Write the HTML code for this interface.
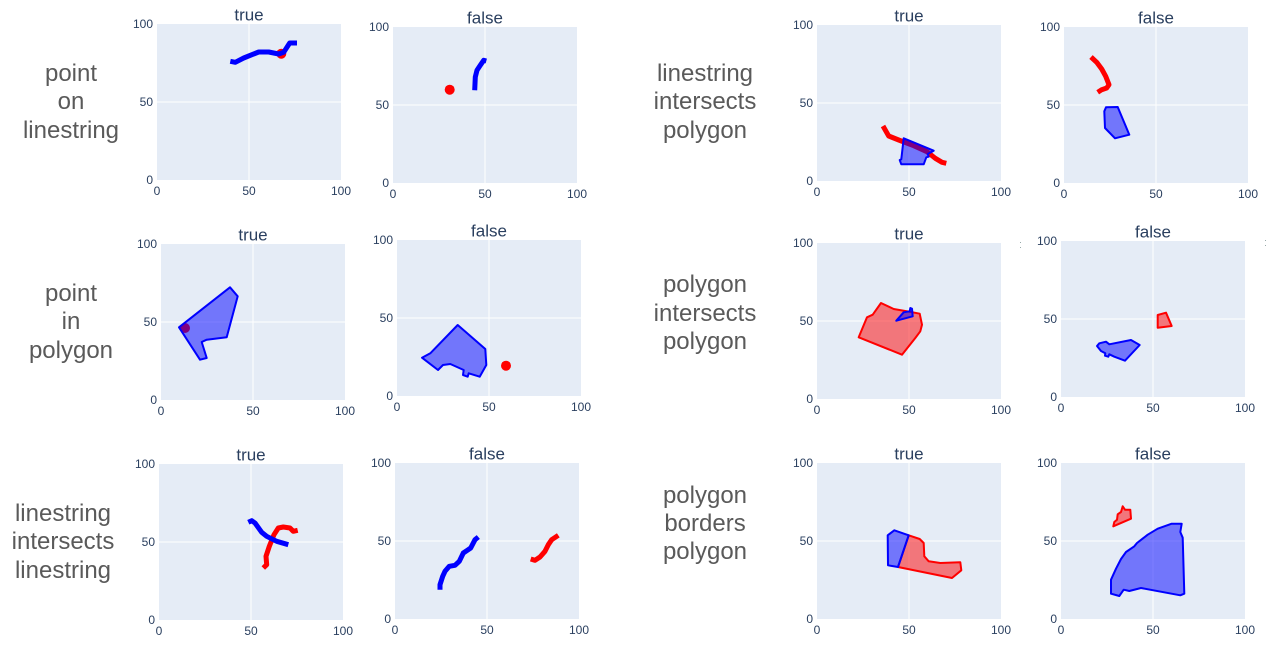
<!DOCTYPE html>
<html>
<head>
<meta charset="utf-8">
<style>
  html,body{margin:0;padding:0;background:#fff;}
  svg{display:block;}
  .tk{font-family:"Liberation Sans",Arial,sans-serif;font-size:12px;fill:#2a3f5f;}
  .ya{text-anchor:end;}
  .xa{text-anchor:middle;}
  .tt{font-family:"Liberation Sans",Arial,sans-serif;font-size:17px;fill:#2a3f5f;text-anchor:middle;}
  .rl{font-family:"Liberation Sans",Arial,sans-serif;font-size:24px;fill:#5a5a5a;text-anchor:middle;}
  .bg{fill:#E5ECF6;}
  .gr{stroke:#fff;stroke-width:1;}
  .ln{fill:none;stroke-width:5;stroke-linejoin:round;stroke-linecap:butt;}
  .pb{fill:rgba(0,0,255,0.5);stroke:#0000ff;stroke-width:2;stroke-linejoin:round;}
  .pr{fill:rgba(255,0,0,0.5);stroke:#ff0000;stroke-width:2;stroke-linejoin:round;}
</style>
</head>
<body>
<svg width="1278" height="656" viewBox="0 0 1278 656" xmlns="http://www.w3.org/2000/svg">
  <rect width="1278" height="656" fill="#fff"/>

  <!-- Row labels -->
  <text class="rl" x="71" y="81">point</text>
  <text class="rl" x="71" y="109">on</text>
  <text class="rl" x="71" y="138">linestring</text>

  <text class="rl" x="705" y="81">linestring</text>
  <text class="rl" x="705" y="109">intersects</text>
  <text class="rl" x="705" y="138">polygon</text>

  <text class="rl" x="71" y="301">point</text>
  <text class="rl" x="71" y="329">in</text>
  <text class="rl" x="71" y="358">polygon</text>

  <text class="rl" x="705" y="292">polygon</text>
  <text class="rl" x="705" y="321">intersects</text>
  <text class="rl" x="705" y="349">polygon</text>

  <text class="rl" x="63" y="521">linestring</text>
  <text class="rl" x="63" y="549">intersects</text>
  <text class="rl" x="63" y="578">linestring</text>

  <text class="rl" x="705" y="503">polygon</text>
  <text class="rl" x="705" y="531">borders</text>
  <text class="rl" x="705" y="559">polygon</text>

  <!-- P1 -->
  <g transform="translate(157,24)">
    <rect class="bg" width="184" height="156"/>
    <line class="gr" x1="92" y1="0" x2="92" y2="156"/>
    <line class="gr" x1="0" y1="78" x2="184" y2="78"/>
    <text class="tt" x="92" y="-3.5">true</text>
    <text class="tk ya" x="-4" y="4">100</text>
    <text class="tk ya" x="-4" y="82">50</text>
    <text class="tk ya" x="-4" y="160">0</text>
    <text class="tk xa" x="0" y="171">0</text>
    <text class="tk xa" x="92" y="171">50</text>
    <text class="tk xa" x="184" y="171">100</text>
    <circle cx="124.3" cy="29.7" r="5" fill="#ff0000"/>
    <polyline class="ln" stroke="#0000ff" points="73.3,37.3 78.3,38.3 86.7,34 101.7,28 111.7,28 121.7,30 126.7,28.3 132.7,19 140,19"/>
  </g>

  <!-- P2 -->
  <g transform="translate(393,27)">
    <rect class="bg" width="184" height="156"/>
    <line class="gr" x1="92" y1="0" x2="92" y2="156"/>
    <line class="gr" x1="0" y1="78" x2="184" y2="78"/>
    <text class="tt" x="92" y="-3.5">false</text>
    <text class="tk ya" x="-4" y="4">100</text>
    <text class="tk ya" x="-4" y="82">50</text>
    <text class="tk ya" x="-4" y="160">0</text>
    <text class="tk xa" x="0" y="171">0</text>
    <text class="tk xa" x="92" y="171">50</text>
    <text class="tk xa" x="184" y="171">100</text>
    <circle cx="56.7" cy="62.7" r="5" fill="#ff0000"/>
    <polyline class="ln" stroke="#0000ff" points="81.7,63.3 82.3,50 84,43.3 87.3,38.3 90.7,33.3 93.3,34"/>
  </g>

  <!-- P3 -->
  <g transform="translate(817,25)">
    <rect class="bg" width="184" height="156"/>
    <line class="gr" x1="92" y1="0" x2="92" y2="156"/>
    <line class="gr" x1="0" y1="78" x2="184" y2="78"/>
    <text class="tt" x="92" y="-3.5">true</text>
    <text class="tk ya" x="-4" y="4">100</text>
    <text class="tk ya" x="-4" y="82">50</text>
    <text class="tk ya" x="-4" y="160">0</text>
    <text class="tk xa" x="0" y="171">0</text>
    <text class="tk xa" x="92" y="171">50</text>
    <text class="tk xa" x="184" y="171">100</text>
    <polyline class="ln" stroke="#ff0000" points="66,101 71.7,111 81.7,115 96.7,120.7 110,126.7 118.3,133.3 125,137.3 129.3,138.3"/>
    <polygon class="pb" points="86.7,113.3 116.7,125.7 110.7,129 111.7,131.7 109.3,132.3 106.7,139.3 84.3,139.3 82.7,135 84.3,134.3"/>
  </g>

  <!-- P4 -->
  <g transform="translate(1064,27)">
    <rect class="bg" width="184" height="156"/>
    <line class="gr" x1="92" y1="0" x2="92" y2="156"/>
    <line class="gr" x1="0" y1="78" x2="184" y2="78"/>
    <text class="tt" x="92" y="-3.5">false</text>
    <text class="tk ya" x="-4" y="4">100</text>
    <text class="tk ya" x="-4" y="82">50</text>
    <text class="tk ya" x="-4" y="160">0</text>
    <text class="tk xa" x="0" y="171">0</text>
    <text class="tk xa" x="92" y="171">50</text>
    <text class="tk xa" x="184" y="171">100</text>
    <polyline class="ln" stroke="#ff0000" points="27,30 32.7,35.3 37.7,42 41.7,49.3 45,57.7 42.7,61 37.7,62.7 33.7,65.3"/>
    <polygon class="pb" points="42,80.3 53.7,80 65.3,107.7 51,111.3 41,101 40.3,84.3"/>
  </g>

  <!-- P5 -->
  <g transform="translate(161,244)">
    <rect class="bg" width="184" height="156"/>
    <line class="gr" x1="92" y1="0" x2="92" y2="156"/>
    <line class="gr" x1="0" y1="78" x2="184" y2="78"/>
    <text class="tt" x="92" y="-3.5">true</text>
    <text class="tk ya" x="-4" y="4">100</text>
    <text class="tk ya" x="-4" y="82">50</text>
    <text class="tk ya" x="-4" y="160">0</text>
    <text class="tk xa" x="0" y="171">0</text>
    <text class="tk xa" x="92" y="171">50</text>
    <text class="tk xa" x="184" y="171">100</text>
    <circle cx="24" cy="84" r="5" fill="#ff0000"/>
    <polygon class="pb" points="18,83.3 69,43.3 76.7,52.3 65.7,93.3 45.7,95.7 40.7,98 45.7,114 39,115.7"/>
  </g>

  <!-- P6 -->
  <g transform="translate(397,240)">
    <rect class="bg" width="184" height="156"/>
    <line class="gr" x1="92" y1="0" x2="92" y2="156"/>
    <line class="gr" x1="0" y1="78" x2="184" y2="78"/>
    <text class="tt" x="92" y="-3.5">false</text>
    <text class="tk ya" x="-4" y="4">100</text>
    <text class="tk ya" x="-4" y="82">50</text>
    <text class="tk ya" x="-4" y="160">0</text>
    <text class="tk xa" x="0" y="171">0</text>
    <text class="tk xa" x="92" y="171">50</text>
    <text class="tk xa" x="184" y="171">100</text>
    <circle cx="109" cy="125.7" r="5" fill="#ff0000"/>
    <polygon class="pb" points="25,117.7 33.3,113.3 60.7,85 88.3,109 89.3,125 82.7,136.7 71.7,133.3 70.7,136.7 66,135 66.7,130 53.3,124 46,125 41,130"/>
  </g>

  <!-- P7 -->
  <g transform="translate(817,243)">
    <rect class="bg" width="184" height="156"/>
    <line class="gr" x1="92" y1="0" x2="92" y2="156"/>
    <line class="gr" x1="0" y1="78" x2="184" y2="78"/>
    <text class="tt" x="92" y="-3.5">true</text>
    <text class="tk ya" x="-4" y="4">100</text>
    <text class="tk ya" x="-4" y="82">50</text>
    <text class="tk ya" x="-4" y="160">0</text>
    <text class="tk xa" x="0" y="171">0</text>
    <text class="tk xa" x="92" y="171">50</text>
    <text class="tk xa" x="184" y="171">100</text>
    <polygon class="pr" points="41.7,94.3 50,74.3 55.7,71.7 64,60 76.7,66 94,69 102.7,70.7 105,81.7 103.3,88.3 98.3,95 85,111.7"/>
    <polygon class="pb" points="79.3,77.7 86.7,69.3 92.7,68.3 93.3,65 95,65.7 95.7,73.3"/>
  </g>

  <!-- P8 -->
  <g transform="translate(1061,241)">
    <rect class="bg" width="184" height="156"/>
    <line class="gr" x1="92" y1="0" x2="92" y2="156"/>
    <line class="gr" x1="0" y1="78" x2="184" y2="78"/>
    <text class="tt" x="92" y="-3.5">false</text>
    <text class="tk ya" x="-4" y="4">100</text>
    <text class="tk ya" x="-4" y="82">50</text>
    <text class="tk ya" x="-4" y="160">0</text>
    <text class="tk xa" x="0" y="171">0</text>
    <text class="tk xa" x="92" y="171">50</text>
    <text class="tk xa" x="184" y="171">100</text>
    <polygon class="pr" points="96.7,74 105,71.7 110.7,85 96.7,86.7"/>
    <polygon class="pb" points="36,105 38.3,102.3 45,100.7 48.3,103.3 70,99 78.7,104 64,119.7 53.3,115.7 48.3,113.3 47.3,115.7 44,114.7 44.3,112.3 40,110"/>
  </g>
  <rect x="1020" y="242" width="1" height="1" fill="#9aa"/>
  <rect x="1020" y="247" width="1" height="1" fill="#9aa"/>
  <rect x="1265" y="240" width="1" height="1" fill="#9aa"/>
  <rect x="1265" y="245" width="1" height="1" fill="#9aa"/>

  <!-- P9 -->
  <g transform="translate(159,464)">
    <rect class="bg" width="184" height="156"/>
    <line class="gr" x1="92" y1="0" x2="92" y2="156"/>
    <line class="gr" x1="0" y1="78" x2="184" y2="78"/>
    <text class="tt" x="92" y="-3.5">true</text>
    <text class="tk ya" x="-4" y="4">100</text>
    <text class="tk ya" x="-4" y="82">50</text>
    <text class="tk ya" x="-4" y="160">0</text>
    <text class="tk xa" x="0" y="171">0</text>
    <text class="tk xa" x="92" y="171">50</text>
    <text class="tk xa" x="184" y="171">100</text>
    <polyline class="ln" stroke="#ff0000" points="104.3,104 107.7,100.7 107,92.3 110.3,82.3 115,70.7 119.3,64 124.3,63 131,64 134.3,67.3 138.7,66.3"/>
    <polyline class="ln" stroke="#0000ff" points="89.3,58.3 92.7,56.7 96,59 102.7,68.3 107.7,72.3 117.7,77.3 129.3,80.7"/>
  </g>

  <!-- P10 -->
  <g transform="translate(395,463)">
    <rect class="bg" width="184" height="156"/>
    <line class="gr" x1="92" y1="0" x2="92" y2="156"/>
    <line class="gr" x1="0" y1="78" x2="184" y2="78"/>
    <text class="tt" x="92" y="-3.5">false</text>
    <text class="tk ya" x="-4" y="4">100</text>
    <text class="tk ya" x="-4" y="82">50</text>
    <text class="tk ya" x="-4" y="160">0</text>
    <text class="tk xa" x="0" y="171">0</text>
    <text class="tk xa" x="92" y="171">50</text>
    <text class="tk xa" x="184" y="171">100</text>
    <polyline class="ln" stroke="#ff0000" points="135.7,96 140,97.3 145,94 150,88.3 153.3,81.7 156.7,76.7 163.3,72.3"/>
    <polyline class="ln" stroke="#0000ff" points="45,126.7 45,121.7 47.7,113.3 50,108.3 54.3,103.3 60,102.3 64.3,98.3 68.3,90 72.3,87.3 75.7,85 80,76.7 83.3,74"/>
  </g>

  <!-- P11 -->
  <g transform="translate(817,463)">
    <rect class="bg" width="184" height="156"/>
    <line class="gr" x1="92" y1="0" x2="92" y2="156"/>
    <line class="gr" x1="0" y1="78" x2="184" y2="78"/>
    <text class="tt" x="92" y="-3.5">true</text>
    <text class="tk ya" x="-4" y="4">100</text>
    <text class="tk ya" x="-4" y="82">50</text>
    <text class="tk ya" x="-4" y="160">0</text>
    <text class="tk xa" x="0" y="171">0</text>
    <text class="tk xa" x="92" y="171">50</text>
    <text class="tk xa" x="184" y="171">100</text>
    <polygon class="pr" points="91.7,72.3 102.7,76 106.7,80 107.3,93.3 111.7,98.3 123.3,100 143.3,99.3 144.3,107.3 135,115 81,104"/>
    <polygon class="pb" points="70.7,72.3 77.3,67.3 91.7,72.3 81,104 71,102.3"/>
  </g>

  <!-- P12 -->
  <g transform="translate(1061,463)">
    <rect class="bg" width="184" height="156"/>
    <line class="gr" x1="92" y1="0" x2="92" y2="156"/>
    <line class="gr" x1="0" y1="78" x2="184" y2="78"/>
    <text class="tt" x="92" y="-3.5">false</text>
    <text class="tk ya" x="-4" y="4">100</text>
    <text class="tk ya" x="-4" y="82">50</text>
    <text class="tk ya" x="-4" y="160">0</text>
    <text class="tk xa" x="0" y="171">0</text>
    <text class="tk xa" x="92" y="171">50</text>
    <text class="tk xa" x="184" y="171">100</text>
    <polygon class="pr" points="52.3,63.3 53.3,59 56,56.7 56.7,51.3 60,49 61.7,43.3 64,46.7 69.3,46.7 70,55.7"/>
    <polygon class="pb" points="50,130.7 50,116.7 55,105.7 60,96 65,89 73.3,83.3 76,80 86.7,71.7 96.7,65.7 110.7,60.7 120.7,60.7 119.3,69 121.7,74.7 123.3,130.7 119.3,132.3 80,125 68.3,128 62.7,126.7 58.3,133"/>
  </g>
</svg>
</body>
</html>
